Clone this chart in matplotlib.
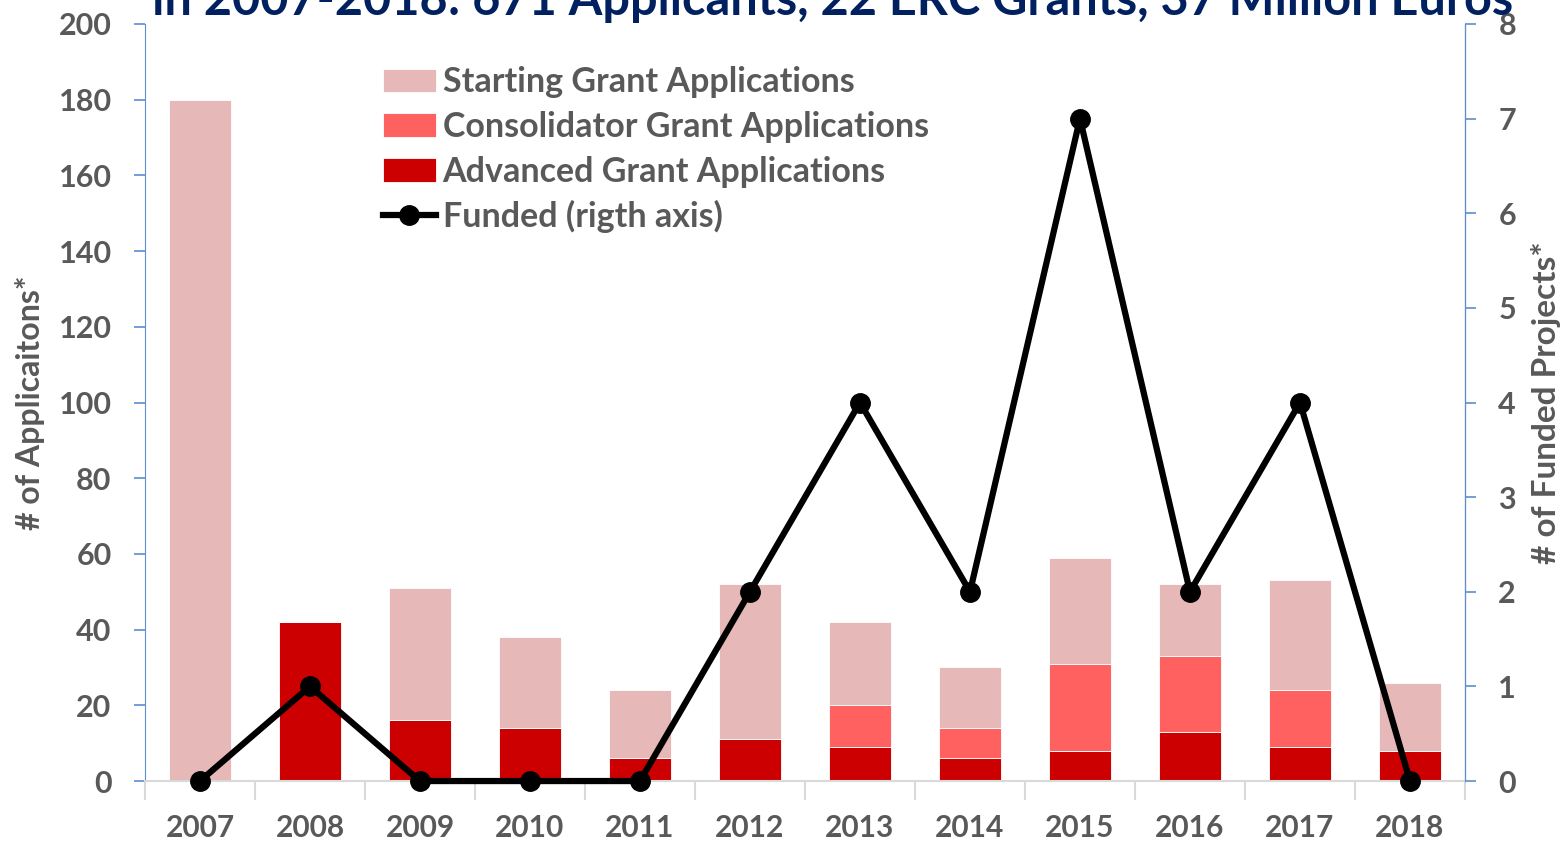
import matplotlib.pyplot as plt
import numpy as np

years = ['2007', '2008', '2009', '2010', '2011', '2012',
         '2013', '2014', '2015', '2016', '2017', '2018']
advanced = [0, 42, 16, 14, 6, 11, 9, 6, 8, 13, 9, 8]
consolidator = [0, 0, 0, 0, 0, 0, 11, 8, 23, 20, 15, 0]
starting = [180, 0, 35, 24, 18, 41, 22, 16, 28, 19, 29, 18]
funded = [0, 1, 0, 0, 0, 2, 4, 2, 7, 2, 4, 0]

title = 'in 2007-2018: 671 Applicants, 22 ERC Grants, 37 Million Euros'

c_start = '#E6B8B7'
c_cons = '#FF6161'
c_adv = '#CC0000'
gray = '#595959'
blue = '#5B8FD0'
font = 'Lato'

plt.rcParams['font.family'] = [font, 'DejaVu Sans']

fig = plt.figure(figsize=(15.62, 8.42), dpi=100)
ax = fig.add_axes([0.0928, 0.0724, 0.8451, 0.8991])
ax2 = ax.twinx()

x = np.arange(len(years))
adv = np.array(advanced)
cons = np.array(consolidator)
sta = np.array(starting)
w = 0.57

b_adv = ax.bar(x, adv, w, color=c_adv, edgecolor='white', linewidth=0.6)
b_cons = ax.bar(x, cons, w, bottom=adv, color=c_cons, edgecolor='white', linewidth=0.6)
b_sta = ax.bar(x, sta, w, bottom=adv + cons, color=c_start, edgecolor='white', linewidth=0.6)

ln, = ax2.plot(x, funded, color='black', lw=4.5, marker='o', markersize=14,
               clip_on=False, zorder=5)

ax.set_xlim(-0.5, len(years) - 0.5)
ax.set_ylim(0, 200)
ax2.set_ylim(0, 8)

ax.set_yticks(np.arange(0, 201, 20))
ax2.set_yticks(np.arange(0, 9, 1))
ax.set_xticks(x)
ax.set_xticklabels(years)
ax.set_xticks(np.arange(-0.5, len(years), 1), minor=True)

for a in (ax, ax2):
    a.spines['top'].set_visible(False)
ax.spines['left'].set_color(blue)
ax2.spines['right'].set_color(blue)
ax.spines['bottom'].set_color('#D9D9D9')
ax.spines['bottom'].set_linewidth(1.5)
ax2.spines['left'].set_visible(False)
ax2.spines['bottom'].set_visible(False)

ax.tick_params(axis='y', colors=blue, length=8, width=1.2, labelsize=22,
               labelcolor=gray, pad=16)
ax2.tick_params(axis='y', colors=blue, length=8, width=1.2, labelsize=22,
                labelcolor=gray, pad=16)
ax.tick_params(axis='x', which='major', length=0, labelsize=21.5,
               labelcolor=gray, pad=24)
ax.tick_params(axis='x', which='minor', length=14, width=1.5, color='#D9D9D9')
for lab in ax.get_yticklabels() + ax2.get_yticklabels() + ax.get_xticklabels():
    lab.set_fontweight('bold')

ax.set_ylabel('# of Applicaitons*', fontsize=23, fontweight='bold', color=gray,
              labelpad=10)
ax2.set_ylabel('# of Funded Projects*', fontsize=24, fontweight='bold', color=gray,
               labelpad=11)

fig.text(0.533, 0.982, title, ha='center', va='baseline', fontsize=35,
         fontweight='bold', color='#002060')

leg = ax.legend([b_sta, b_cons, b_adv, ln],
                ['Starting Grant Applications', 'Consolidator Grant Applications',
                 'Advanced Grant Applications', 'Funded (rigth axis)'],
                loc='upper left', bbox_to_anchor=(0.17, 0.962), frameon=False,
                handlelength=1.55, handletextpad=0.2, labelspacing=0.37,
                borderpad=0.2, borderaxespad=0.2,
                prop={'family': font, 'weight': 'bold', 'size': 24.5})
for t in leg.get_texts():
    t.set_color(gray)

fig.savefig('out.png', dpi=100)
